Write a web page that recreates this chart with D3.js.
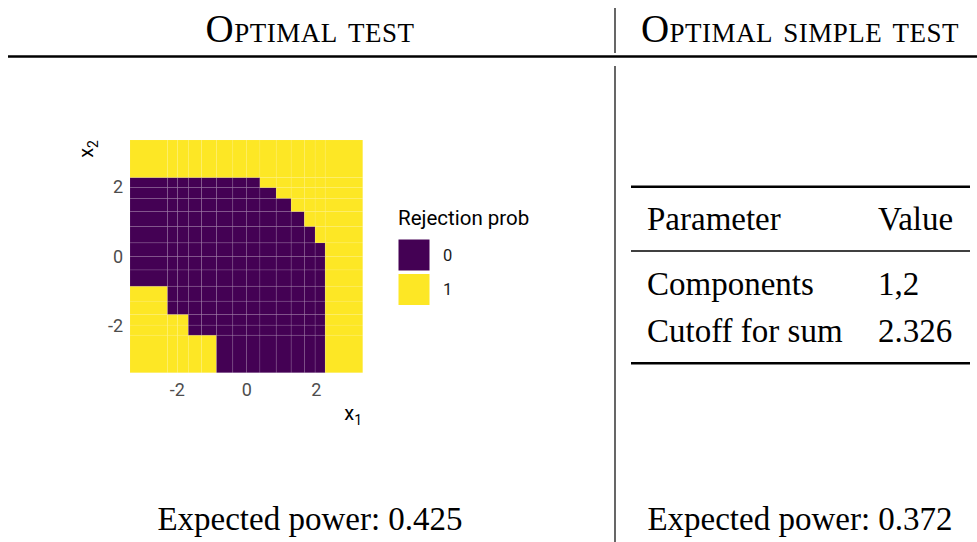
<!DOCTYPE html>
<meta charset="utf-8">
<script src="https://d3js.org/d3.v7.min.js"></script>
<style>
  body { margin: 0; background: #fff; }
  .serif { font-family: "Liberation Serif", "DejaVu Serif", serif; fill: #000; }
  .sans { font-family: Roboto, "Noto Sans", sans-serif; }
</style>
<body>
<div id="chart"></div>
<script>
// grid cell boundaries (same on both axes)
var breaks = [-3.35, -2.27, -1.98, -1.67, -1.29, -0.86, -0.39, 0, 0.39, 0.86, 1.29, 1.67, 1.98, 2.27, 3.35];
// rejection indicator, rows from bottom (x2 low) to top (x2 high), columns x1 low -> high
var rejection = [
  [1,1,1,1,1,0,0,0,0,0,0,0,0,1],
  [1,1,1,0,0,0,0,0,0,0,0,0,0,1],
  [1,1,1,0,0,0,0,0,0,0,0,0,0,1],
  [1,0,0,0,0,0,0,0,0,0,0,0,0,1],
  [1,0,0,0,0,0,0,0,0,0,0,0,0,1],
  [0,0,0,0,0,0,0,0,0,0,0,0,0,1],
  [0,0,0,0,0,0,0,0,0,0,0,0,0,1],
  [0,0,0,0,0,0,0,0,0,0,0,0,0,1],
  [0,0,0,0,0,0,0,0,0,0,0,0,1,1],
  [0,0,0,0,0,0,0,0,0,0,0,1,1,1],
  [0,0,0,0,0,0,0,0,0,0,1,1,1,1],
  [0,0,0,0,0,0,0,0,0,1,1,1,1,1],
  [0,0,0,0,0,0,0,0,1,1,1,1,1,1],
  [1,1,1,1,1,1,1,1,1,1,1,1,1,1]
];
var axisTicks = [-2, 0, 2];
var legendLevels = [0, 1];
var legendColors = ["#440154", "#FDE725"];
var headers = ["Optimal test", "Optimal simple test"];
var powers = [0.425, 0.372];
var tableHead = ["Parameter", "Value"];
var tableRows = [["Components", "1,2"], ["Cutoff for sum", "2.326"]];

var W = 977, H = 542;
var svg = d3.select("#chart").append("svg")
  .attr("width", W).attr("height", H)
  .style("display", "block");

// ---- frame: headers, rules, separator
var colCenters = [310, 800];
svg.selectAll(".hdr").data(headers).enter().append("text")
  .attr("class", "serif")
  .attr("x", (d, i) => colCenters[i])
  .attr("y", 42)
  .attr("text-anchor", "middle")
  .style("font-size", "39px")
  .style("font-variant", "small-caps")
  .style("letter-spacing", "0.5px")
  .text(d => d);

svg.append("line").attr("x1", 8).attr("x2", W).attr("y1", 56.5).attr("y2", 56.5)
  .attr("stroke", "#000").attr("stroke-width", 2.5);
svg.append("line").attr("x1", 615).attr("x2", 615).attr("y1", 8).attr("y2", 53)
  .attr("stroke", "#000").attr("stroke-width", 1.2);
svg.append("line").attr("x1", 615).attr("x2", 615).attr("y1", 66).attr("y2", H)
  .attr("stroke", "#000").attr("stroke-width", 1.2);

svg.selectAll(".pow").data(powers).enter().append("text")
  .attr("class", "serif")
  .attr("x", (d, i) => colCenters[i])
  .attr("y", 530)
  .attr("text-anchor", "middle")
  .style("font-size", "33px")
  .text(d => "Expected power: " + d.toFixed(3));

// ---- heatmap
var x = d3.scaleLinear().domain([breaks[0], breaks[breaks.length - 1]]).range([130, 362.7]);
var y = d3.scaleLinear().domain([breaks[0], breaks[breaks.length - 1]]).range([372.7, 140]);
var color = d3.scaleOrdinal().domain(legendLevels).range(legendColors);

var cells = [];
rejection.forEach(function(row, r) {
  row.forEach(function(v, c) {
    cells.push({x0: breaks[c], x1: breaks[c + 1], y0: breaks[r], y1: breaks[r + 1], value: v});
  });
});

var plot = svg.append("g");
plot.selectAll("rect").data(cells).enter().append("rect")
  .attr("x", d => x(d.x0))
  .attr("y", d => y(d.y1))
  .attr("width", d => x(d.x1) - x(d.x0))
  .attr("height", d => y(d.y0) - y(d.y1))
  .attr("fill", d => color(d.value))
  .attr("stroke", d => d.value ? "rgba(255,255,255,0.08)" : "rgba(255,255,255,0.12)")
  .attr("stroke-width", 0.8);

var xAxis = svg.append("g")
  .attr("transform", "translate(0,372.7)")
  .call(d3.axisBottom(x).tickValues(axisTicks).tickSize(0).tickPadding(10.5).tickFormat(d => String(d)));
var yAxis = svg.append("g")
  .attr("transform", "translate(130,0)")
  .call(d3.axisLeft(y).tickValues(axisTicks).tickSize(0).tickPadding(7).tickFormat(d => String(d)));
[xAxis, yAxis].forEach(function(g) {
  g.select(".domain").remove();
  g.selectAll("text")
    .attr("class", "sans")
    .style("font-size", "18px")
    .attr("fill", "#4d4d4d");
});

// axis titles
var xt = svg.append("text").attr("class", "sans")
  .attr("x", 362).attr("y", 420).attr("text-anchor", "end")
  .style("font-size", "20px").attr("fill", "#000");
xt.append("tspan").text("x");
xt.append("tspan").attr("dy", 5).style("font-size", "14px").text("1");

var yt = svg.append("text").attr("class", "sans")
  .attr("transform", "translate(93,140) rotate(-90)")
  .attr("text-anchor", "end")
  .style("font-size", "20px").attr("fill", "#000");
yt.append("tspan").text("x");
yt.append("tspan").attr("dy", 5).style("font-size", "14px").text("2");

// legend
var legend = svg.append("g").attr("transform", "translate(398,0)");
legend.append("text").attr("class", "sans")
  .attr("x", 0).attr("y", 225)
  .style("font-size", "20.5px").attr("fill", "#000")
  .text("Rejection prob");
var keys = legend.selectAll(".key").data(legendLevels).enter().append("g")
  .attr("transform", (d, i) => "translate(0," + (239 + i * 34.5) + ")");
keys.append("rect")
  .attr("width", 32).attr("height", 32)
  .attr("fill", d => color(d))
  .attr("stroke", "#fff").attr("stroke-width", 1);
keys.append("text").attr("class", "sans")
  .attr("x", 45).attr("y", 16).attr("dy", "0.35em")
  .style("font-size", "16.5px").attr("fill", "#1a1a1a")
  .text(d => d);

// ---- table
var tbl = svg.append("g");
var tL = 631, tR = 970, col2 = 878, col1 = 647;
tbl.append("line").attr("x1", tL).attr("x2", tR).attr("y1", 186.7).attr("y2", 186.7)
  .attr("stroke", "#000").attr("stroke-width", 2.6);
tbl.append("line").attr("x1", tL).attr("x2", tR).attr("y1", 251).attr("y2", 251)
  .attr("stroke", "#000").attr("stroke-width", 1.6);
tbl.append("line").attr("x1", tL).attr("x2", tR).attr("y1", 363.3).attr("y2", 363.3)
  .attr("stroke", "#000").attr("stroke-width", 2.6);

var rowY = [230, 294.5, 341.5];
[tableHead].concat(tableRows).forEach(function(row, i) {
  tbl.selectAll(null).data(row).enter().append("text")
    .attr("class", "serif")
    .attr("x", (d, j) => j === 0 ? col1 : col2)
    .attr("y", rowY[i])
    .style("font-size", "33px")
    .text(d => d);
});
</script>
</body>
